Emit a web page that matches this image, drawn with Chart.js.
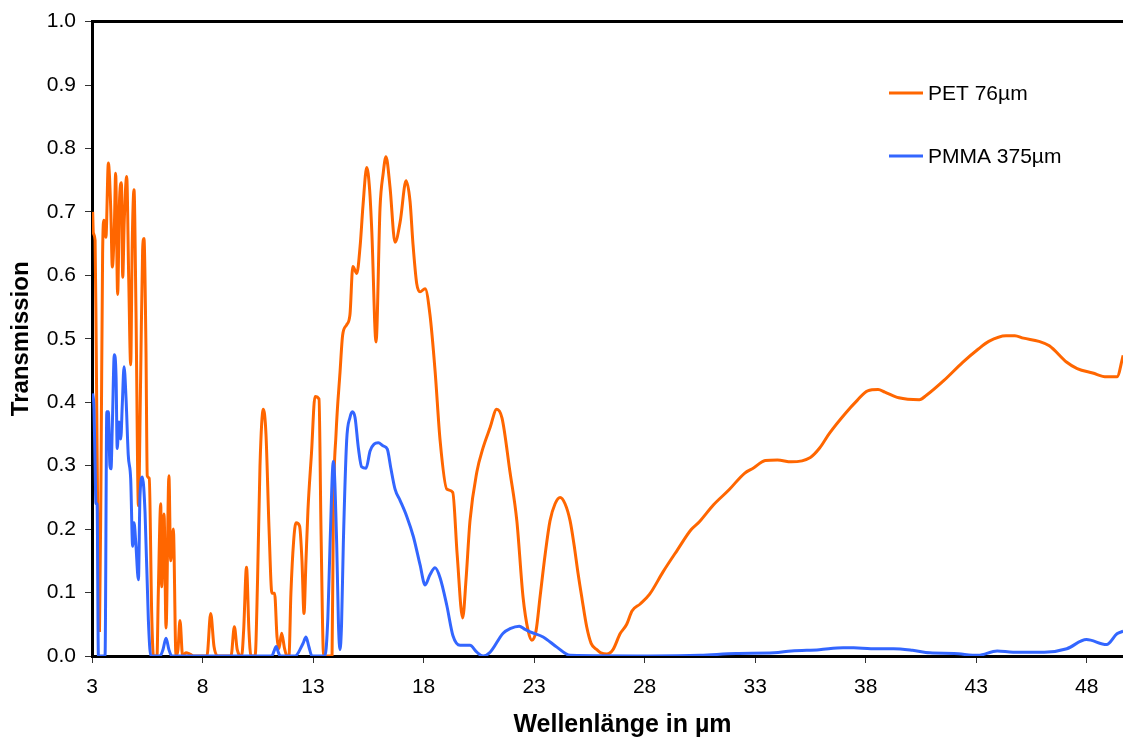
<!DOCTYPE html>
<html>
<head>
<meta charset="utf-8">
<script src="https://cdn.jsdelivr.net/npm/chart.js@4.4.1/dist/chart.umd.min.js"></script>
<style>
  html, body { margin: 0; padding: 0; background: #fff; overflow: hidden; }
  #wrap { width: 1153px; height: 740px; }
</style>
</head>
<body>
<div id="wrap"><canvas id="c" width="1153" height="740"></canvas></div>
<script>
// ---- data ----
const petLabel = 'PET 76\u00b5m';
const pmmaLabel = 'PMMA 375\u00b5m';
const xTitle = 'Wellenl\u00e4nge in \u00b5m';
const yTitle = 'Transmission';
const xTickValues = [3, 8, 13, 18, 23, 28, 33, 38, 43, 48];

const petWavelength = [3.03,3.06,3.14,3.19,3.25,3.34,3.41,3.48,3.54,3.63,
  3.74,3.85,3.92,4.01,4.07,4.16,4.24,4.33,4.39,4.46,
  4.57,4.66,4.75,4.82,4.90,4.99,5.10,5.20,5.29,5.35,
  5.44,5.50,5.59,5.70,5.78,5.94,6.00,6.11,6.15,6.26,
  6.35,6.48,6.56,6.68,6.80,6.89,6.98,7.10,7.25,7.43,
  7.62,8.20,8.37,8.52,8.70,9.29,9.44,9.57,9.77,9.86,
  9.99,10.10,10.19,10.38,10.49,10.60,10.75,10.87,11.01,11.14,
  11.26,11.37,11.46,11.58,11.71,11.82,11.91,12.00,12.12,12.23,
  12.39,12.50,12.59,12.68,12.77,12.93,13.09,13.27,13.36,13.48,
  13.86,13.92,14.04,14.22,14.34,14.52,14.67,14.80,14.98,15.13,
  15.26,15.43,15.56,15.66,15.85,16.03,16.17,16.30,16.48,16.71,
  16.94,17.21,17.39,17.52,17.69,17.84,18.07,18.29,18.52,18.75,
  19.05,19.32,19.52,19.77,19.92,20.10,20.41,20.69,21.01,21.31,
  21.55,21.91,22.22,22.50,22.73,22.90,23.09,23.27,23.50,23.72,
  23.95,24.18,24.40,24.63,24.81,24.99,25.17,25.38,25.58,25.84,
  26.02,26.29,26.57,26.89,27.19,27.43,27.80,28.22,28.84,29.48,
  30.10,30.49,31.11,31.82,32.52,32.91,33.46,34.01,34.64,35.50,
  35.90,36.36,37.07,37.62,38.09,38.56,38.87,39.50,40.43,40.75,
  41.53,42.39,43.10,43.57,44.35,44.75,45.14,45.84,46.31,47.10,
  47.57,48.27,48.90,49.37,49.65];
const petTransmission = [0.70,0.667,0.655,0.49,0.25,0.04,0.30,0.634,0.687,0.66,
  0.777,0.703,0.613,0.676,0.761,0.57,0.713,0.746,0.597,0.687,
  0.756,0.597,0.459,0.65,0.735,0.544,0.237,0.438,0.64,0.658,
  0.49,0.284,0.28,0.068,0,0,0.10,0.24,0.109,0.224,
  0.044,0.284,0.15,0.20,0,0.01,0.056,0,0.005,0.003,
  0,0,0.067,0.015,0,0,0.046,0.01,0,0.04,
  0.14,0.04,0,0,0.12,0.30,0.389,0.35,0.20,0.099,
  0.099,0.03,0.012,0.036,0.012,0,0,0.10,0.18,0.21,
  0.205,0.15,0.067,0.15,0.23,0.32,0.409,0.405,0.20,0,
  0,0.23,0.35,0.447,0.506,0.522,0.538,0.614,0.603,0.646,
  0.71,0.77,0.735,0.668,0.495,0.706,0.76,0.787,0.74,0.652,
  0.684,0.749,0.716,0.65,0.587,0.574,0.579,0.538,0.45,0.339,
  0.263,0.258,0.16,0.06,0.12,0.213,0.29,0.328,0.36,0.389,
  0.375,0.29,0.213,0.093,0.04,0.025,0.04,0.093,0.16,0.213,
  0.24,0.25,0.24,0.213,0.175,0.13,0.09,0.046,0.02,0.01,
  0.005,0.003,0.01,0.035,0.05,0.071,0.082,0.097,0.133,0.167,
  0.199,0.212,0.238,0.262,0.288,0.296,0.308,0.309,0.306,0.313,
  0.327,0.351,0.382,0.403,0.418,0.420,0.416,0.407,0.404,0.411,
  0.434,0.463,0.484,0.496,0.505,0.505,0.501,0.496,0.489,0.463,
  0.453,0.446,0.440,0.440,0.474];

const pmmaWavelength = [3.03,3.09,3.14,3.18,3.23,3.29,3.59,3.67,3.74,3.81,
  3.86,3.92,4.01,4.09,4.14,4.22,4.30,4.37,4.45,4.54,
  4.64,4.75,4.84,4.90,4.98,5.10,5.17,5.28,5.40,5.55,
  5.66,6.08,6.21,6.35,6.48,6.61,11.13,11.24,11.33,11.44,
  11.51,12.19,12.55,12.68,12.81,12.95,13.54,13.67,13.77,13.92,
  14.07,14.15,14.22,14.29,14.37,14.52,14.67,14.78,14.90,15.05,
  15.20,15.40,15.58,15.76,15.95,16.18,16.36,16.52,16.71,16.94,
  17.24,17.54,17.84,18.07,18.29,18.52,18.75,19.05,19.33,19.65,
  20.10,20.41,20.69,21.01,21.60,21.91,22.33,22.59,22.82,23.41,
  24.03,24.63,28.25,30.51,32.13,33.86,34.64,35.90,36.98,37.46,
  38.24,39.26,40.12,40.90,42.00,43.09,43.95,44.67,46.08,47.10,
  47.99,48.90,49.37,49.65];
const pmmaTransmission = [0.414,0.39,0.30,0.24,0.24,0,0,0.385,0.385,0.30,
  0.295,0.364,0.475,0.438,0.327,0.369,0.342,0.396,0.456,0.406,
  0.317,0.279,0.173,0.21,0.179,0.12,0.252,0.282,0.226,0.057,
  0,0,0.01,0.028,0.01,0,0,0.008,0.015,0.005,
  0,0,0.02,0.03,0.015,0,0,0.06,0.177,0.307,
  0.177,0.05,0.01,0.05,0.177,0.339,0.376,0.385,0.376,0.328,
  0.298,0.296,0.323,0.334,0.336,0.331,0.326,0.296,0.263,0.245,
  0.22,0.188,0.144,0.112,0.128,0.139,0.123,0.08,0.032,0.017,
  0.017,0.006,0,0.006,0.036,0.043,0.047,0.042,0.038,0.03,
  0.014,0.001,0,0.001,0.004,0.005,0.008,0.010,0.013,0.013,
  0.0115,0.0115,0.009,0.005,0.004,0.001,0.008,0.006,0.006,0.0115,
  0.026,0.018,0.035,0.039];

// ---- build ----
const toPoints = (xs, ys) => xs.map((x, i) => ({ x: x, y: ys[i] }));
const FONT = '"Liberation Sans", Arial, Helvetica, sans-serif';

const legendPlugin = {
  id: 'insideLegend',
  afterDatasetsDraw(chart) {
    const ctx = chart.ctx;
    const startX = 889, lineLen = 34, textGap = 5, firstY = 93, gap = 63;
    chart.data.datasets.forEach((ds, i) => {
      const y = firstY + i * gap;
      ctx.save();
      ctx.strokeStyle = ds.borderColor;
      ctx.lineWidth = 3;
      ctx.beginPath();
      ctx.moveTo(startX, y);
      ctx.lineTo(startX + lineLen, y);
      ctx.stroke();
      ctx.fillStyle = '#000';
      ctx.font = '21px ' + FONT;
      ctx.textBaseline = 'middle';
      ctx.textAlign = 'left';
      ctx.fillText(ds.label, startX + lineLen + textGap, y + 1);
      ctx.restore();
    });
  }
};

new Chart(document.getElementById('c'), {
  type: 'line',
  data: {
    datasets: [
      { label: petLabel, data: toPoints(petWavelength, petTransmission),
        borderColor: '#FF6600', backgroundColor: '#FF6600', borderWidth: 3,
        pointRadius: 0, fill: false, cubicInterpolationMode: 'monotone', order: 2,
        xAxisID: 'x', yAxisID: 'y' },
      { label: pmmaLabel, data: toPoints(pmmaWavelength, pmmaTransmission),
        borderColor: '#3366FF', backgroundColor: '#3366FF', borderWidth: 3,
        pointRadius: 0, fill: false, cubicInterpolationMode: 'monotone', order: 1,
        xAxisID: 'x', yAxisID: 'y' }
    ]
  },
  options: {
    responsive: false,
    animation: false,
    devicePixelRatio: 1,
    layout: { padding: { top: 19, left: 0, right: 0, bottom: 0 } },
    plugins: { legend: { display: false }, tooltip: { enabled: false } },
    scales: {
      x: {
        type: 'linear', position: 'bottom', min: 3, max: 51,
        afterBuildTicks: s => { s.ticks = xTickValues.map(v => ({ value: v })); },
        afterFit: s => { s.height = 84; },
        ticks: { font: { family: FONT, size: 21 }, color: '#000', padding: 12,
                 maxRotation: 0, autoSkip: false, callback: v => String(v) },
        grid: { drawOnChartArea: false, drawTicks: true, tickLength: 7, color: '#333', lineWidth: 1 },
        border: { display: true, color: '#000', width: 3 },
        title: { display: true, text: xTitle, color: '#000',
                 font: { family: FONT, size: 25, weight: 'bold' }, padding: { top: 0, bottom: 0 } }
      },
      xTop: {
        type: 'linear', position: 'top', min: 3, max: 51,
        ticks: { display: false },
        grid: { display: false, drawTicks: false },
        border: { display: true, color: '#000', width: 3 },
        afterFit: s => { s.height = 0; }
      },
      y: {
        type: 'linear', position: 'left', min: 0, max: 1,
        afterFit: s => { s.width = 92; },
        ticks: { stepSize: 0.1, font: { family: FONT, size: 21 }, color: '#000', padding: 9,
                 callback: v => Number(v).toFixed(1) },
        grid: { drawOnChartArea: false, drawTicks: true, tickLength: 7, color: '#333', lineWidth: 1 },
        border: { display: true, color: '#000', width: 3 },
        title: { display: true, text: yTitle, color: '#000',
                 font: { family: FONT, size: 24, weight: 'bold' }, padding: { top: 7, bottom: 0 } }
      }
    }
  },
  plugins: [legendPlugin]
});
</script>
</body>
</html>
